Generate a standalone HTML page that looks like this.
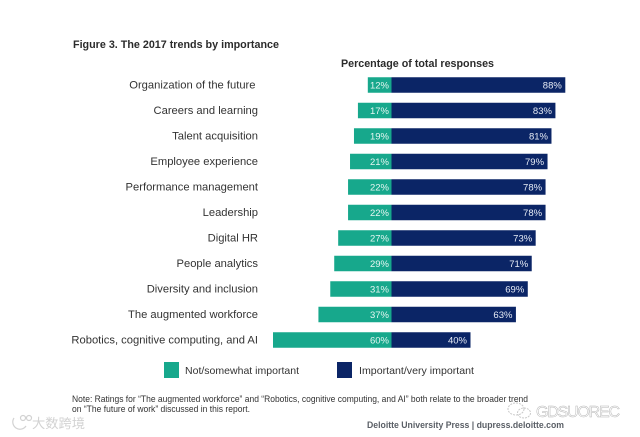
<!DOCTYPE html>
<html lang="en">
<head>
<meta charset="utf-8">
<title>The 2017 trends by importance</title>
<style>
html,body{margin:0;padding:0;background:#fff;width:640px;height:437px;overflow:hidden}
svg{display:block;filter:blur(.35px)}
text{font-family:"Liberation Sans","Noto Sans CJK SC",sans-serif}
</style>
</head>
<body>
<svg id="chart" width="640" height="437" viewBox="0 0 640 437" xmlns="http://www.w3.org/2000/svg">
<rect width="640" height="437" fill="#fff"/>
<text x="73" y="48" font-size="11" font-weight="700" fill="#2b2b2b" textLength="206" lengthAdjust="spacingAndGlyphs">Figure 3. The 2017 trends by importance</text>
<text x="341" y="67" font-size="11" font-weight="700" fill="#2b2b2b" textLength="153" lengthAdjust="spacingAndGlyphs">Percentage of total responses</text>
<g id="bars"></g>
<rect x="164" y="362" width="15" height="16" fill="#17a88c"/>
<text x="185" y="374" font-size="10.5" fill="#333" textLength="114" lengthAdjust="spacingAndGlyphs">Not/somewhat important</text>
<rect x="337" y="362" width="15" height="16" fill="#0b2566"/>
<text x="359" y="374" font-size="10.5" fill="#333" textLength="115" lengthAdjust="spacingAndGlyphs">Important/very important</text>
<text x="72" y="402" font-size="9.5" fill="#333" textLength="456" lengthAdjust="spacingAndGlyphs">Note: Ratings for “The augmented workforce” and “Robotics, cognitive computing, and AI” both relate to the broader trend</text>
<text x="72" y="412" font-size="9.5" fill="#333" textLength="178" lengthAdjust="spacingAndGlyphs">on “The future of work” discussed in this report.</text>
<text x="367" y="428" font-size="9.5" font-weight="700" fill="#5a5f66" textLength="197" lengthAdjust="spacingAndGlyphs">Deloitte University Press  |  dupress.deloitte.com</text>
<text x="32" y="428" font-size="13" fill="#d2d2d2" textLength="53" lengthAdjust="spacingAndGlyphs">大数跨境</text>
<g fill="none" stroke="#d2d2d2" stroke-width="1.2">
<path d="M14 418 a6 6 0 1 0 12 8"/><circle cx="23" cy="418" r="2.5"/><circle cx="29" cy="418" r="2.5"/>
</g>
<g fill="none" stroke="#c9c9c9" stroke-width="1" stroke-dasharray="2 1">
<ellipse cx="516" cy="409" rx="8" ry="6"/><ellipse cx="524" cy="413" rx="6.5" ry="5"/>
</g>
<text x="536" y="417" font-size="16" fill="#fff" stroke="#b5b5b5" stroke-width=".5" textLength="84" lengthAdjust="spacing">GDSUOREC</text>
</svg>
<script>
var categories = ["Organization of the future","Careers and learning","Talent acquisition","Employee experience","Performance management","Leadership","Digital HR","People analytics","Diversity and inclusion","The augmented workforce","Robotics, cognitive computing, and AI"];
var notImportant = [12,17,19,21,22,22,27,29,31,37,60];
var important = [88,83,81,79,78,78,73,71,69,63,40];

var NS = "http://www.w3.org/2000/svg";
var barsGroup = document.getElementById("bars");
function xScale(v){ return 391.5 + v * 1.975; }
function yScale(i){ return 85 + i * 25.5; }
function make(tag, attrs, txt){
  var el = document.createElementNS(NS, tag);
  for (var k in attrs) el.setAttribute(k, attrs[k]);
  if (txt !== undefined) el.textContent = txt;
  barsGroup.appendChild(el);
  return el;
}
categories.forEach(function(cat, i){
  var y = yScale(i), h = 15.5;
  var label = make("text", {x: i === 0 ? 255.5 : 258, y: y + 3.5, "font-size": 11.2, fill: "#333", "text-anchor": "end"}, cat);
  
  
  var left = make("rect", {x: xScale(-notImportant[i]), y: y - h / 2, width: xScale(0) - xScale(-notImportant[i]), height: h, fill: "#17a88c"});
  
  
  var right = make("rect", {x: xScale(0), y: y - h / 2, width: xScale(important[i]) - xScale(0), height: h, fill: "#0b2566"});
  
  
  var lv = make("text", {x: xScale(0) - 2.5, y: y + 3.3, "font-size": 9.5, fill: "#e6f6f2", "text-anchor": "end"}, notImportant[i] + "%");
  
  
  var rv = make("text", {x: xScale(important[i]) - 3.5, y: y + 3.3, "font-size": 9.5, fill: "#e6ebf5", "text-anchor": "end"}, important[i] + "%");
  
  
});
</script>
</body>
</html>
